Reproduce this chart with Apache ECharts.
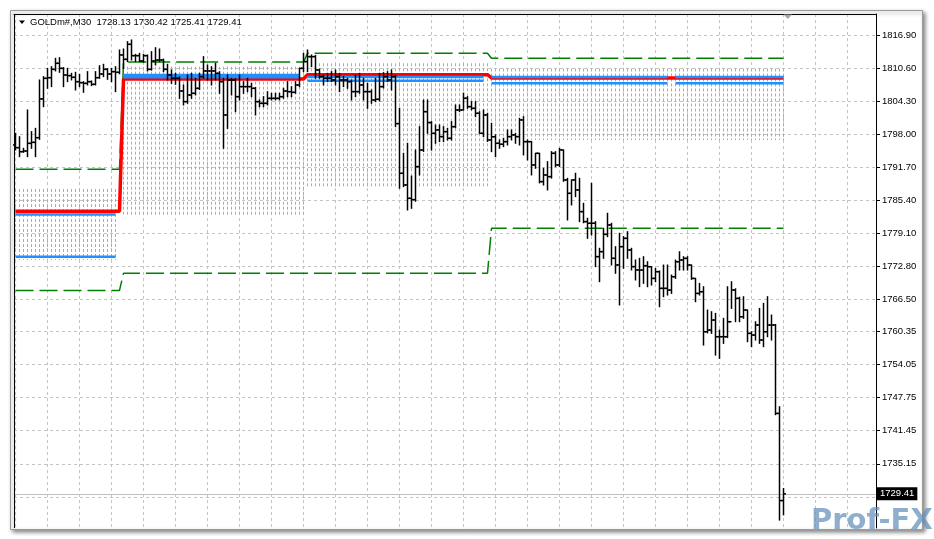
<!DOCTYPE html>
<html><head><meta charset="utf-8">
<script src="https://cdn.jsdelivr.net/npm/echarts@6/dist/echarts.min.js"></script>
<style>html,body{margin:0;padding:0;background:#fff}#c{width:934px;height:539px}</style>
</head><body><div id="c"></div>
<script>
const symbolName = 'GOLDm#,M30';
const lastQuote = [1728.13, 1730.42, 1725.41, 1729.41];
const priceTicks = [1816.90, 1810.60, 1804.30, 1798.00, 1791.70, 1785.40, 1779.10, 1772.80, 1766.50, 1760.35, 1754.05, 1747.75, 1741.45, 1735.15, 1728.85];
const priceLabels = [1816.90, 1810.60, 1804.30, 1798.00, 1791.70, 1785.40, 1779.10, 1772.80, 1766.50, 1760.35, 1754.05, 1747.75, 1741.45, 1735.15];
const timeGridBars = [0, 8, 16, 24, 32, 40, 48, 56, 64, 72, 80, 88, 96, 104, 112, 120, 128, 136, 144, 152, 160, 168, 176, 184, 192, 200, 208];

const opens = [1795.93,1795.42,1794.65,1794.78,1796.24,1796.43,1797.32,1804.70,1808.64,1808.76,
1810.35,1811.50,1810.54,1809.27,1809.15,1808.83,1808.00,1807.81,1807.68,1808.00,
1807.49,1808.76,1809.46,1810.35,1809.46,1809.91,1809.78,1813.09,1812.26,1815.12,
1812.96,1812.96,1811.94,1812.96,1810.35,1811.94,1812.13,1812.13,1810.35,1809.27,
1808.64,1808.64,1806.22,1804.19,1805.46,1805.78,1806.73,1808.96,1810.04,1810.04,
1810.04,1809.59,1808.00,1801.65,1808.32,1808.32,1805.14,1807.05,1807.05,1807.05,
1806.73,1804.19,1803.87,1803.87,1804.82,1804.82,1804.82,1805.14,1806.22,1806.09,
1805.97,1807.37,1810.54,1811.82,1812.77,1812.77,1810.23,1808.96,1808.64,1808.64,
1808.32,1808.96,1808.32,1808.32,1808.00,1806.10,1806.10,1807.37,1806.10,1806.10,
1804.51,1804.64,1807.05,1808.96,1808.32,1808.96,1800.00,1790.53,1788.30,1785.76,
1785.50,1791.80,1794.97,1802.28,1800.20,1798.15,1798.79,1797.52,1798.47,1797.20,
1799.42,1802.60,1802.60,1804.83,1803.24,1802.92,1801.97,1798.15,1801.65,1796.88,
1797.50,1796.25,1796.06,1796.56,1797.52,1797.84,1797.52,1800.70,1796.56,1796.56,
1792.12,1794.34,1788.94,1790.21,1789.89,1794.34,1792.12,1794.98,1789.26,1786.71,
1789.26,1787.35,1783.22,1781.31,1781.00,1781.00,1774.64,1775.59,1778.89,1780.68,
1774.32,1773.05,1776.54,1778.13,1775.91,1772.73,1772.10,1772.08,1772.91,1772.72,
1770.49,1771.77,1768.59,1768.59,1768.27,1770.81,1773.67,1773.99,1774.31,1773.04,
1770.49,1767.63,1767.95,1760.32,1760.64,1762.55,1759.37,1759.37,1759.37,1762.23,
1768.27,1766.68,1763.18,1764.46,1760.01,1759.69,1761.60,1758.74,1760.32,1761.60,
1761.60,1744.75,1728.13];
const highs = [1798.15,1797.51,1795.29,1802.60,1798.47,1799.10,1808.32,1808.96,1810.54,1810.86,
1812.45,1812.58,1810.67,1810.54,1809.59,1809.78,1809.40,1808.00,1809.91,1808.13,
1809.91,1811.05,1811.31,1810.50,1810.54,1810.86,1814.04,1814.23,1815.63,1815.95,
1813.20,1813.40,1813.21,1813.09,1813.72,1814.48,1814.23,1812.30,1811.31,1810.23,
1809.59,1808.90,1807.37,1809.27,1809.59,1808.64,1809.59,1812.77,1811.18,1810.86,
1811.50,1809.90,1808.64,1809.27,1808.64,1808.60,1809.27,1808.00,1808.64,1807.68,
1806.90,1804.51,1805.14,1806.09,1805.78,1805.78,1805.78,1806.73,1808.00,1807.05,
1808.00,1810.54,1813.40,1814.04,1813.09,1813.00,1810.40,1809.27,1809.59,1809.91,
1810.23,1809.59,1808.96,1808.64,1808.30,1809.27,1809.59,1808.64,1807.69,1806.42,
1808.64,1809.59,1809.72,1809.91,1810.23,1809.20,1802.92,1794.34,1796.25,1790.00,
1794.97,1799.42,1804.50,1804.50,1800.38,1799.74,1799.74,1799.42,1799.11,1800.38,
1803.56,1803.56,1805.78,1805.14,1804.19,1804.19,1802.28,1802.60,1801.97,1800.06,
1797.84,1796.88,1797.20,1798.79,1798.79,1798.15,1801.01,1801.33,1796.88,1796.60,
1794.34,1794.34,1791.48,1792.75,1794.66,1794.66,1795.29,1794.98,1789.57,1789.26,
1790.53,1789.57,1784.81,1781.95,1788.62,1781.31,1776.23,1780.04,1782.90,1780.99,
1776.54,1779.09,1778.45,1779.40,1776.23,1774.00,1774.31,1774.63,1773.67,1772.72,
1772.40,1771.90,1773.04,1773.04,1771.13,1773.99,1775.58,1774.63,1774.63,1773.04,
1770.49,1769.54,1768.90,1764.46,1764.14,1763.82,1760.64,1762.87,1768.90,1769.86,
1768.50,1766.90,1767.00,1764.46,1760.32,1762.23,1764.77,1765.73,1767.00,1763.50,
1761.70,1746.02,1730.42];
const lows = [1794.97,1793.70,1794.53,1793.70,1795.29,1793.70,1797.00,1803.23,1806.73,1807.05,
1810.04,1809.78,1807.05,1808.00,1808.32,1806.41,1807.05,1805.97,1807.37,1807.24,
1807.37,1808.64,1808.96,1808.45,1808.00,1806.09,1809.50,1810.54,1811.82,1812.13,
1811.82,1811.82,1811.70,1810.04,1810.20,1811.18,1811.82,1809.91,1808.32,1807.68,
1807.49,1804.82,1803.55,1803.87,1804.82,1805.46,1806.50,1808.64,1808.32,1807.37,
1808.32,1805.78,1795.29,1799.10,1805.46,1802.28,1804.51,1805.78,1806.09,1805.14,
1801.65,1803.23,1803.23,1803.55,1804.51,1804.51,1804.51,1804.82,1805.14,1805.14,
1805.78,1807.05,1809.91,1809.91,1810.86,1808.64,1808.64,1807.37,1808.00,1808.00,
1807.37,1806.10,1807.05,1806.73,1804.51,1805.14,1805.78,1804.51,1802.92,1803.87,
1804.19,1804.30,1806.80,1808.00,1806.42,1799.42,1787.67,1787.98,1783.53,1783.85,
1785.20,1790.21,1794.70,1798.15,1794.97,1796.25,1796.57,1796.57,1796.88,1796.88,
1799.20,1802.28,1802.60,1802.92,1802.60,1801.33,1798.15,1797.50,1796.60,1794.66,
1793.70,1795.29,1795.61,1795.93,1796.88,1796.25,1795.93,1794.02,1793.07,1790.21,
1791.48,1788.70,1788.30,1787.35,1789.60,1791.80,1791.80,1789.00,1781.63,1784.49,
1786.08,1781.31,1781.10,1778.13,1778.77,1772.73,1769.87,1774.32,1778.45,1773.05,
1771.46,1765.42,1772.41,1774.32,1772.10,1770.19,1768.92,1769.54,1768.90,1769.22,
1769.86,1765.09,1767.00,1767.32,1767.63,1770.49,1772.08,1772.08,1772.08,1770.30,
1766.04,1767.32,1757.78,1760.10,1760.00,1755.87,1755.24,1758.10,1759.20,1764.77,
1762.23,1762.23,1762.87,1758.42,1757.47,1758.74,1758.10,1757.47,1759.37,1758.74,
1744.50,1724.41,1725.41];
const closes = [1795.42,1794.65,1794.78,1796.24,1796.43,1797.32,1804.70,1808.64,1808.76,1810.35,
1811.50,1810.54,1809.27,1809.15,1808.83,1808.00,1807.81,1807.68,1808.00,1807.49,
1808.76,1809.46,1810.35,1809.46,1809.91,1809.78,1813.09,1812.26,1815.12,1812.96,
1812.96,1811.94,1812.96,1810.35,1811.94,1812.13,1812.13,1810.35,1809.27,1808.64,
1808.64,1806.22,1804.19,1805.46,1805.78,1806.73,1808.96,1810.04,1810.04,1810.04,
1809.59,1808.00,1801.65,1808.32,1808.32,1805.14,1807.05,1807.05,1807.05,1806.73,
1804.19,1803.87,1803.87,1804.82,1804.82,1804.82,1805.14,1806.22,1806.09,1805.97,
1807.37,1810.54,1811.82,1812.77,1812.77,1810.23,1808.96,1808.64,1808.64,1808.32,
1808.96,1808.32,1808.32,1808.00,1806.10,1806.10,1807.37,1806.10,1806.10,1804.51,
1804.64,1807.05,1808.96,1808.32,1808.96,1800.00,1790.53,1788.30,1785.76,1785.50,
1791.80,1794.97,1802.28,1800.20,1798.15,1798.79,1797.52,1798.47,1797.20,1799.42,
1802.60,1802.60,1804.83,1803.24,1802.92,1801.97,1798.15,1801.65,1796.88,1797.50,
1796.25,1796.06,1796.56,1797.52,1797.84,1797.52,1800.70,1796.56,1796.56,1792.12,
1794.34,1788.94,1790.21,1789.89,1794.34,1792.12,1794.98,1789.26,1786.71,1789.26,
1787.35,1783.22,1781.31,1781.00,1781.00,1774.64,1775.59,1778.89,1780.68,1774.32,
1773.05,1776.54,1778.13,1775.91,1772.73,1772.10,1772.08,1772.91,1772.72,1770.49,
1771.77,1768.59,1768.59,1768.27,1770.81,1773.67,1773.99,1774.31,1773.04,1770.49,
1767.63,1767.95,1760.32,1760.64,1762.55,1759.37,1759.37,1759.37,1762.23,1768.27,
1766.68,1763.18,1764.46,1760.01,1759.69,1761.60,1758.74,1760.32,1761.60,1761.60,
1744.75,1728.13,1729.41];

// indicator levels: [firstBar, lastBar, price]
const greenUpperSegs = [[0, 26, 1791.30], [27, 72, 1811.75], [73, 118, 1813.40], [119, 192, 1812.46]];
const greenLowerSegs = [[0, 26, 1768.20], [27, 118, 1771.46], [119, 192, 1780.05]];
const redSegs = [[0, 26, 1783.28], [27, 72, 1808.51], [73, 118, 1809.33], [119, 192, 1808.70]];
const blueUpperSegs = [[0, 25, 1782.67], [27, 71, 1809.27], [73, 117, 1808.89], [119, 163, 1808.89], [165, 192, 1808.89]];
const blueLowerSegs = [[0, 25, 1774.62], [27, 71, 1808.83], [73, 117, 1808.18], [119, 163, 1807.69], [165, 192, 1807.69]];
// dotted zones: [firstBar, lastBar, top, bottom]
const zoneSegs = [[0, 25, 1787.54, 1774.00], [27, 72, 1810.86, 1782.58], [73, 118, 1811.50, 1787.97], [119, 192, 1810.51, 1796.88]];

function segData(segs) {
  const out = [];
  segs.forEach((s, k) => {
    if (k > 0 && s[0] > segs[k - 1][1] + 1) out.push([(segs[k - 1][1] + s[0]) / 2, '-']);
    for (let i = s[0]; i <= s[1]; i++) out.push([i, s[2]]);
  });
  return out;
}
const zoneData = [];
zoneSegs.forEach(z => { for (let i = z[0]; i <= z[1]; i++) zoneData.push([i, z[2], z[3]]); });
const ohlcData = opens.map((o, i) => [i, o, highs[i], lows[i], closes[i]]);

const chart = echarts.init(document.getElementById('c'), null, {renderer: 'canvas'});
const FONT = '"Liberation Sans", Arial, sans-serif';
chart.setOption({
  animation: false,
  backgroundColor: '#ffffff',
  grid: {left: 14, top: 14, right: 58, bottom: 11, containLabel: false},
  xAxis: {
    type: 'value', min: -0.375, max: 215.125, position: 'top',
    axisLine: {show: true, onZero: false, lineStyle: {color: '#000', width: 1}},
    axisTick: {show: false, customValues: timeGridBars},
    axisLabel: {show: false},
    splitLine: {show: true, lineStyle: {color: '#c4c4c4', width: 1, type: [3, 3]}}
  },
  yAxis: {
    type: 'value', position: 'right', min: 1722.90, max: 1820.90, scale: true,
    axisLine: {show: true, onZero: false, lineStyle: {color: '#000', width: 1}},
    axisTick: {show: true, length: 4, inside: false, customValues: priceTicks, lineStyle: {color: '#000'}},
    axisLabel: {show: true, customValues: priceLabels, margin: 6, color: '#000', fontSize: 9.5, fontFamily: FONT,
      formatter: v => Number(v).toFixed(2)},
    splitLine: {show: true, lineStyle: {color: '#c4c4c4', width: 1, type: [3, 3]}}
  },
  series: [
    {
      type: 'custom', name: 'zones', z: 1, silent: true,
      data: zoneData, encode: {x: 0, y: [1, 2]},
      renderItem: (params, api) => {
        const a = api.coord([api.value(0), api.value(1)]);
        const b = api.coord([api.value(0), api.value(2)]);
        const x = Math.floor(a[0]) + 0.5;
        return {type: 'line', shape: {x1: x, y1: a[1], x2: x, y2: b[1]},
          style: {stroke: '#9acd32', lineWidth: 1, lineDash: [3, 2]}};
      }
    },
    {type: 'line', name: 'greenUpper', z: 2, silent: true, showSymbol: false, symbol: 'none', connectNulls: false,
      data: segData(greenUpperSegs), lineStyle: {color: '#008000', width: 1.5, type: [18, 6]}},
    {type: 'line', name: 'greenLower', z: 2, silent: true, showSymbol: false, symbol: 'none', connectNulls: false,
      data: segData(greenLowerSegs), lineStyle: {color: '#008000', width: 1.5, type: [18, 6]}},
    {type: 'line', name: 'red', z: 3, silent: true, showSymbol: false, symbol: 'none',
      data: segData(redSegs), lineStyle: {color: '#ff0000', width: 3.5},
      markLine: {
        silent: true, symbol: 'none', animation: false,
        lineStyle: {color: '#c0c0c0', width: 1, type: 'solid'},
        label: {show: true, position: 'end', distance: 1, formatter: p => Number(p.value).toFixed(2),
          backgroundColor: '#000', color: '#fff', fontSize: 9.5, fontFamily: FONT, padding: [2, 3, 1, 3]},
        data: [{yAxis: lastQuote[3]}]
      }},
    {type: 'line', name: 'blueUpper', z: 4, silent: true, showSymbol: false, symbol: 'none', connectNulls: false,
      data: segData(blueUpperSegs), lineStyle: {color: '#1e90ff', width: 2.5, cap: 'butt'}},
    {type: 'line', name: 'blueLower', z: 4, silent: true, showSymbol: false, symbol: 'none', connectNulls: false,
      data: segData(blueLowerSegs), lineStyle: {color: '#1e90ff', width: 2.5, cap: 'butt'}},
    {
      type: 'custom', name: 'bars', z: 5, silent: true,
      data: ohlcData, encode: {x: 0, y: [1, 2, 3, 4]},
      renderItem: (params, api) => {
        const i = api.value(0);
        const pO = api.coord([i, api.value(1)]);
        const pH = api.coord([i, api.value(2)]);
        const pL = api.coord([i, api.value(3)]);
        const pC = api.coord([i, api.value(4)]);
        const x = pH[0];
        const st = {stroke: '#000', lineWidth: 1.5};
        return {type: 'group', children: [
          {type: 'line', shape: {x1: x, y1: pH[1] - 0.5, x2: x, y2: pL[1] + 0.5}, style: st},
          {type: 'line', shape: {x1: x - 2.5, y1: pO[1], x2: x, y2: pO[1]}, style: st},
          {type: 'line', shape: {x1: x, y1: pC[1], x2: x + 2.5, y2: pC[1]}, style: st}
        ]};
      }
    }
  ],
  graphic: [
    {type: 'rect', z: -100, silent: true, shape: {x: 10.5, y: 10.5, width: 912, height: 519},
      style: {fill: '#fff', stroke: '#9a9a9a', lineWidth: 1, shadowBlur: 4, shadowColor: 'rgba(0,0,0,0.45)', shadowOffsetX: 2, shadowOffsetY: 2}},
    {type: 'line', z: 10, silent: true, shape: {x1: 14.5, y1: 14, x2: 14.5, y2: 528}, style: {stroke: '#000', lineWidth: 1}},
    {type: 'polygon', z: 10, silent: true, shape: {points: [[19, 20.5], [25, 20.5], [22, 24]]}, style: {fill: '#000'}},
    {type: 'text', z: 10, silent: true, x: 30, y: 22.5,
      style: {text: symbolName + '  ' + lastQuote.map(v => v.toFixed(2)).join(' '), fill: '#000',
        font: '9.5px "Liberation Sans", Arial, sans-serif', verticalAlign: 'middle', textVerticalAlign: 'middle'}},
    {type: 'polygon', z: 10, silent: true, shape: {points: [[783.5, 14.5], [792, 14.5], [787.8, 19]]}, style: {fill: '#a8a8a8'}},
    {type: 'text', z: 20, silent: true, x: 811, y: 521,
      style: {text: 'Prof-FX', fill: 'rgba(95,140,185,0.7)', font: 'bold 29px "DejaVu Sans", sans-serif',
        verticalAlign: 'middle', textVerticalAlign: 'middle'}}
  ]
});
</script></body></html>
